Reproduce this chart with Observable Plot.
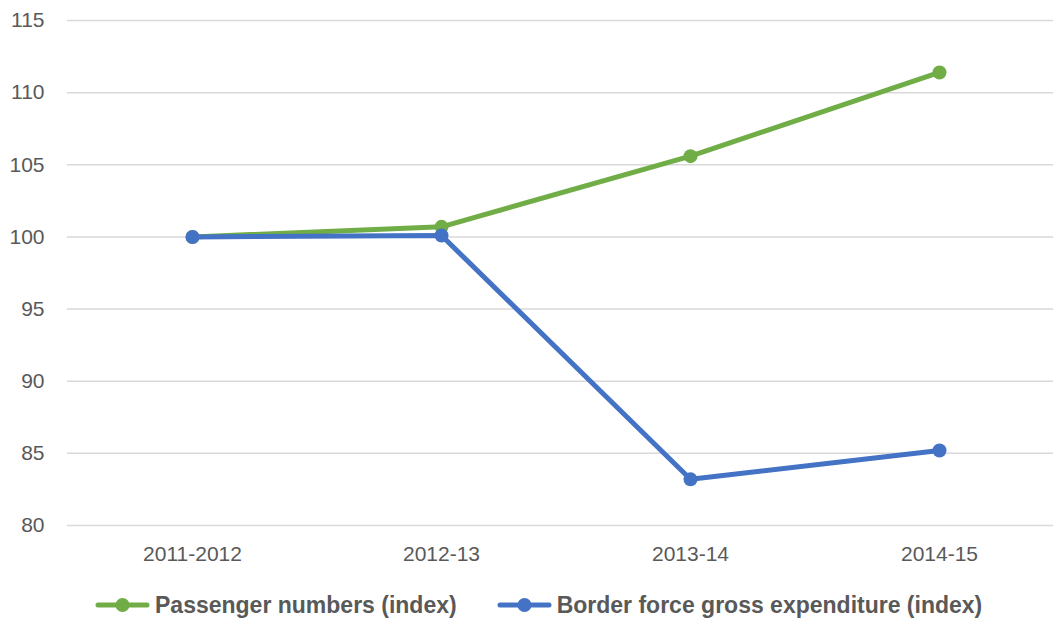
<!DOCTYPE html>
<html>
<head>
<meta charset="utf-8">
<script src="https://cdn.jsdelivr.net/npm/d3@7"></script>
<script src="https://cdn.jsdelivr.net/npm/@observablehq/plot@0.6"></script>
<style>
  body { margin: 0; background: #fff; font-family: "Liberation Sans", Arial, sans-serif; overflow: hidden; }
  #legend { display: flex; align-items: center; padding-left: 95px; margin-top: 22px; height: 26px; line-height: 26px; color: #595959; font-weight: bold; font-size: 23px; white-space: nowrap; }
  .item { display: flex; align-items: center; margin-right: 40px; }
  .item svg { margin-right: 5px; }
</style>
</head>
<body>
<div id="chart"></div>
<div id="legend"></div>
<script>
const periods = ["2011-2012", "2012-13", "2013-14", "2014-15"];
const passengerNumbers = [100, 100.7, 105.6, 111.4];
const borderForceExpenditure = [100, 100.1, 83.2, 85.2];
const seriesNames = ["Passenger numbers (index)", "Border force gross expenditure (index)"];
const seriesColors = ["#70AD47", "#4472C4"];
const yTicks = [80, 85, 90, 95, 100, 105, 110, 115];

const data = [
  ...periods.map((p, i) => ({period: p, value: passengerNumbers[i], series: seriesNames[0]})),
  ...periods.map((p, i) => ({period: p, value: borderForceExpenditure[i], series: seriesNames[1]}))
];

const chart = Plot.plot({
  width: 1053,
  height: 570,
  marginLeft: 67,
  marginRight: 0,
  marginTop: 20,
  marginBottom: 45,
  style: {fontFamily: "Liberation Sans, Arial, sans-serif", fontSize: "21px", color: "#595959", background: "#fff"},
  x: {type: "point", domain: periods, range: [192, 939], padding: 0, label: null},
  y: {domain: [80, 115], label: null},
  color: {domain: seriesNames, range: seriesColors},
  marks: [
    Plot.ruleY(yTicks, {stroke: "#d9d9d9", strokeWidth: 1.5}),
    Plot.axisY({ticks: yTicks, tickSize: 0, tickPadding: 23, label: null, fontSize: 21, fill: "#595959"}),
    Plot.axisX({tickSize: 0, tickPadding: 21, label: null, fontSize: 21, fill: "#595959"}),
    Plot.line(data, {x: "period", y: "value", z: "series", stroke: "series", strokeWidth: 5, strokeLinejoin: "round", strokeLinecap: "round"}),
    Plot.dot(data, {x: "period", y: "value", fill: "series", r: 7, stroke: "none"})
  ]
});
document.getElementById("chart").appendChild(chart);

const legend = document.getElementById("legend");
seriesNames.forEach((name, i) => {
  const item = document.createElement("div");
  item.className = "item";
  item.innerHTML = `<svg width="55" height="16"><line x1="3" x2="52" y1="8" y2="8" stroke="${seriesColors[i]}" stroke-width="5" stroke-linecap="round"/><circle cx="27.5" cy="8" r="7" fill="${seriesColors[i]}"/></svg><span>${name}</span>`;
  legend.appendChild(item);
});
</script>
</body>
</html>
